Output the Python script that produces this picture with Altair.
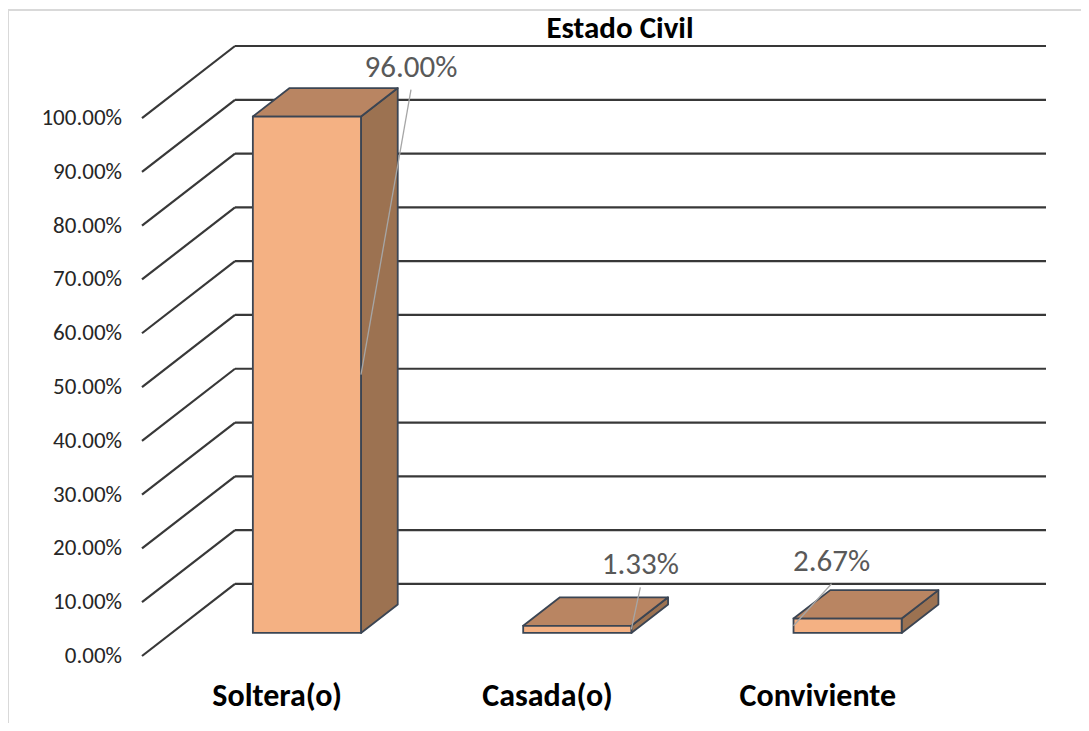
import altair as alt
import pandas as pd

# ---------------- data ----------------
title_text = "Estado Civil"
categories = ["Soltera(o)", "Casada(o)", "Conviviente"]
values = [96.00, 1.33, 2.67]
value_labels = ["96.00%", "1.33%", "2.67%"]
tick_values = [0, 10, 20, 30, 40, 50, 60, 70, 80, 90, 100]
tick_labels = ["0.00%", "10.00%", "20.00%", "30.00%", "40.00%", "50.00%",
               "60.00%", "70.00%", "80.00%", "90.00%", "100.00%"]

# ---------------- layout (3-D projection) ----------------
N = len(categories)
DX, DY = 0.344, 13.4          # depth of the floor / wall (x units, % units)
F_FRONT, F_BACK = 0.32, 0.715  # depth fraction of bar front / back faces
HW = 0.2                       # half bar width (category units)
PXX, PXY = 270.3, 5.379        # px per unit (x), px per % (y)
W, H = 904, 610

FONT = "Calibri, Carlito, Lato"
EDGE = "#3b4553"

xs = alt.Scale(domain=[0, N + DX], nice=False, zero=False)
ys = alt.Scale(domain=[0, 100 + DY], nice=False, zero=False)

# gridlines: diagonal on the floor side + horizontal on back wall
grid_rows = []
for v in tick_values:
    grid_rows.append(dict(x=0, y=v, x2=DX, y2=v + DY))
    grid_rows.append(dict(x=DX, y=v + DY, x2=N + DX, y2=v + DY))
grid = alt.Chart(pd.DataFrame(grid_rows)).mark_rule(
    color="#383838", strokeWidth=2.2
).encode(
    x=alt.X("x:Q", scale=xs, axis=None), x2="x2:Q",
    y=alt.Y("y:Q", scale=ys, axis=None), y2="y2:Q",
)

front_rows, side_rows, top_rows = [], [], []
for i, (c, v) in enumerate(zip(categories, values)):
    L, R = i + 0.5 - HW, i + 0.5 + HW
    front_rows.append(dict(cat=c, x=L + F_FRONT * DX, x2=R + F_FRONT * DX,
                           y=F_FRONT * DY, y2=v + F_FRONT * DY))
    side_rows.append(dict(cat=c, x=R + F_FRONT * DX, y=F_FRONT * DY, y2=v + F_FRONT * DY))
    side_rows.append(dict(cat=c, x=R + F_BACK * DX, y=F_BACK * DY, y2=v + F_BACK * DY))
    top_rows.append(dict(cat=c, y=v + F_FRONT * DY, x=L + F_FRONT * DX, x2=R + F_FRONT * DX))
    top_rows.append(dict(cat=c, y=v + F_BACK * DY, x=L + F_BACK * DX, x2=R + F_BACK * DX))

side = alt.Chart(pd.DataFrame(side_rows)).mark_area(
    color="#9c7251", stroke=EDGE, strokeWidth=1.8, strokeJoin="round", orient="vertical"
).encode(
    x=alt.X("x:Q", scale=xs, axis=None),
    y=alt.Y("y:Q", scale=ys, axis=None), y2="y2:Q",
    detail="cat:N",
)
top = alt.Chart(pd.DataFrame(top_rows)).mark_area(
    color="#b98562", stroke=EDGE, strokeWidth=1.8, strokeJoin="round", orient="horizontal"
).encode(
    y=alt.Y("y:Q", scale=ys, axis=None),
    x=alt.X("x:Q", scale=xs, axis=None), x2="x2:Q",
    detail="cat:N",
)
front = alt.Chart(pd.DataFrame(front_rows)).mark_rect(
    color="#f4b183", stroke=EDGE, strokeWidth=1.8
).encode(
    x=alt.X("x:Q", scale=xs, axis=None), x2="x2:Q",
    y=alt.Y("y:Q", scale=ys, axis=None), y2="y2:Q",
)

# data labels (label centres, px offset from leader start)
LABEL_OFFSETS = [(50, -307), (9, -64), (38, -64)]
LEADER_GAP = 22                                       # px below label centre
lab_rows = []
for i, (c, v, t) in enumerate(zip(categories, values, value_labels)):
    L, R = i + 0.5 - HW, i + 0.5 + HW
    sx = (R if i < 2 else L) + F_FRONT * DX
    sy = v / 2 + F_FRONT * DY
    ox, oy = LABEL_OFFSETS[i]
    lx = sx + ox / PXX
    ly = sy - oy / PXY
    lab_rows.append(dict(t=t, sx=sx, sy=sy, lx=lx, ly=ly, ex=lx, ey=ly - LEADER_GAP / PXY))
lab_df = pd.DataFrame(lab_rows)
leaders = alt.Chart(lab_df).mark_rule(color="#a6a6a6", strokeWidth=1.3).encode(
    x=alt.X("sx:Q", scale=xs, axis=None), y=alt.Y("sy:Q", scale=ys, axis=None),
    x2="ex:Q", y2="ey:Q",
)
labels = alt.Chart(lab_df).mark_text(
    font=FONT, fontSize=31, color="#595959", baseline="middle", align="center"
).encode(
    x=alt.X("lx:Q", scale=xs, axis=None), y=alt.Y("ly:Q", scale=ys, axis=None), text="t:N"
)

# y tick labels on the front plane
tick_df = pd.DataFrame(dict(v=tick_values, t=tick_labels, x0=[0] * len(tick_values)))
yticks = alt.Chart(tick_df).mark_text(
    font=FONT, fontSize=23, color="#262626", align="right", baseline="middle", dx=-20
).encode(
    x=alt.X("x0:Q", scale=xs, axis=None), y=alt.Y("v:Q", scale=ys, axis=None), text="t:N"
)

# category labels
cat_df = pd.DataFrame(dict(c=categories, x=[i + 0.5 for i in range(N)], y0=[0] * N))
cats = alt.Chart(cat_df).mark_text(
    font=FONT, fontSize=32, fontWeight="bold", color="#000000",
    align="center", baseline="middle", dy=40
).encode(
    x=alt.X("x:Q", scale=xs, axis=None), y=alt.Y("y0:Q", scale=ys, axis=None), text="c:N"
)

# chart title
title = alt.Chart(pd.DataFrame({"t": [title_text]})).mark_text(
    font=FONT, fontSize=31, fontWeight="bold", color="#000000",
    align="center", baseline="middle"
).encode(x=alt.value(478), y=alt.value(-17), text="t:N")

# chart-area border (light grey)
border_top = alt.Chart(pd.DataFrame({"a": [0]})).mark_rule(color="#d9d9d9", strokeWidth=2).encode(
    x=alt.value(-135), x2=alt.value(W + 40), y=alt.value(-36))
border_left = alt.Chart(pd.DataFrame({"a": [0]})).mark_rule(color="#d9d9d9", strokeWidth=2).encode(
    x=alt.value(-134), y=alt.value(-36), y2=alt.value(H + 80))

chart = alt.layer(
    border_top, border_left, grid, side, top, front, leaders, labels, yticks, cats, title
).properties(
    width=W, height=H,
    autosize=alt.AutoSizeParams(type="none"),
    padding={"left": 134, "top": 38, "right": 35, "bottom": 67},
).configure(background="white").configure_view(stroke=None)

chart.save("out.html", embed_options={"renderer": "svg", "actions": False})
